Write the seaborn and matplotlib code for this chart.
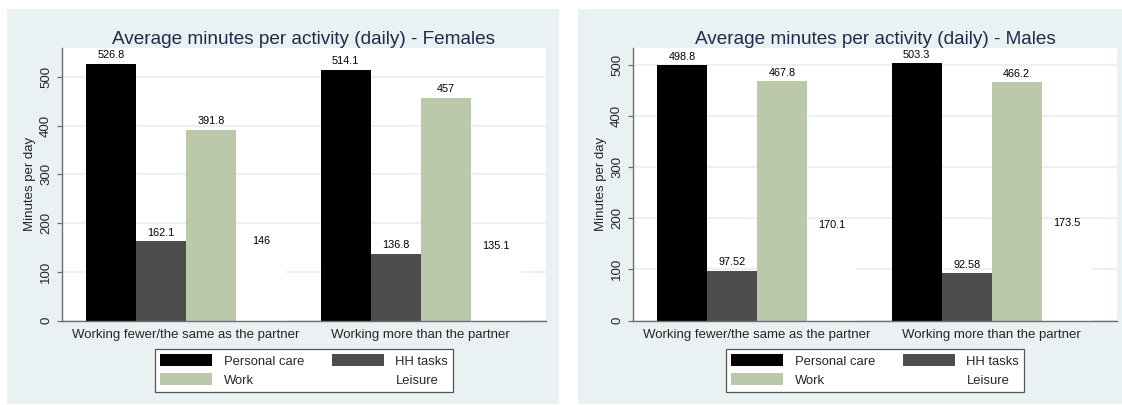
import matplotlib
matplotlib.use("Agg")
import matplotlib.pyplot as plt
from matplotlib.patches import Rectangle, Patch
import seaborn as sns
import pandas as pd

# ---- data ----
groups = ["Working fewer/the same as the partner", "Working more than the partner"]
activities = ["Personal care", "HH tasks", "Work", "Leisure"]
fem_personal_care = [526.8, 514.1]
fem_hh_tasks = [162.1, 136.8]
fem_work = [391.8, 457.0]
fem_leisure = [146.0, 135.1]
male_personal_care = [498.8, 503.3]
male_hh_tasks = [97.52, 92.58]
male_work = [467.8, 466.2]
male_leisure = [170.1, 173.5]
yticks = [0, 100, 200, 300, 400, 500]
titles = ["Average minutes per activity (daily) - Females",
          "Average minutes per activity (daily) - Males"]

colors = {"Personal care": "#000000", "HH tasks": "#4D4D4D",
          "Work": "#BBC8AA", "Leisure": "#FFFFFF"}
BG = "#E9F1F3"
TITLE_C = "#1F2C4C"
AX_C = "#707070"

sns.set_style("white")
plt.rcParams['font.family'] = ['Liberation Sans', 'DejaVu Sans']

W, H = 1122, 405
fig = plt.figure(figsize=(W / 100, H / 100), dpi=100)
fig.patch.set_facecolor("white")

# panel backgrounds
for x0, x1 in [(7, 559), (578, 1122)]:
    fig.patches.append(Rectangle((x0 / W, 1 - 404 / H), (x1 - x0) / W, (404 - 9) / H,
                                 transform=fig.transFigure, facecolor=BG,
                                 edgecolor="none", zorder=-10))


def make_df(pc, hh, wk, le):
    rows = []
    for act, vals in zip(activities, [pc, hh, wk, le]):
        for g, v in zip(groups, vals):
            rows.append({"group": g, "activity": act, "minutes": v})
    return pd.DataFrame(rows)


panels = [
    (make_df(fem_personal_care, fem_hh_tasks, fem_work, fem_leisure), 62, 559, titles[0]),
    (make_df(male_personal_care, male_hh_tasks, male_work, male_leisure), 633, 533, titles[1]),
]

for df, xpix, ytop, title in panels:
    ax = fig.add_axes([xpix / W, (H - 320.5) / H, 484 / W, 272.5 / H])
    ax.set_zorder(1)
    ax.set_facecolor("white")
    sns.barplot(data=df, x="group", y="minutes", hue="activity",
                order=groups, hue_order=activities, palette=colors,
                width=0.852, saturation=1, errorbar=None, linewidth=0,
                legend=False, ax=ax)
    for cont, act in zip(ax.containers, activities):
        vals = df[df.activity == act].set_index("group").loc[groups, "minutes"].tolist()
        ax.bar_label(cont, labels=[f"{v:.4g}" for v in vals], padding=2.5,
                     fontsize=7.8, color="black")
    ax.set_xlim(-0.528, 1.534)
    ax.set_ylim(0, ytop)
    ax.set_yticks(yticks)
    ax.set_yticklabels([str(t) for t in yticks], rotation=90, va="center", fontsize=9.5)
    ax.tick_params(axis="y", length=3.6, width=0.9, color=AX_C, pad=3.5, left=True)
    ax.tick_params(axis="x", length=0, pad=6, labelsize=9.5)
    ax.set_xlabel("")
    ax.set_ylabel("Minutes per day", fontsize=9.5, labelpad=3)
    ax.set_axisbelow(True)
    ax.yaxis.grid(True, color=BG, linewidth=1.5)
    ax.xaxis.grid(False)
    for s in ["top", "right"]:
        ax.spines[s].set_visible(False)
    for s in ["left", "bottom"]:
        ax.spines[s].set_color(AX_C)
        ax.spines[s].set_linewidth(1.0)
    ax.set_title(title, fontsize=13.7, color=TITLE_C, pad=3)

    handles = [Patch(facecolor=colors[a], edgecolor="none") for a in
               ["Personal care", "Work", "HH tasks", "Leisure"]]
    labels = ["Personal care", "Work", "HH tasks", "Leisure"]
    leg = ax.legend(handles, labels, ncol=2, loc="upper center",
                    bbox_to_anchor=((xpix + 242) / W, (H - 349) / H),
                    bbox_transform=fig.transFigure, fontsize=9.4,
                    frameon=True, fancybox=False, framealpha=1,
                    edgecolor="#555555", handlelength=4.0, handleheight=1.0,
                    handletextpad=0.9, columnspacing=2.1, labelspacing=0.45,
                    borderpad=0.4, borderaxespad=0)
    leg.get_frame().set_linewidth(0.9)

fig.savefig("out.png", dpi=100, facecolor=fig.get_facecolor())
